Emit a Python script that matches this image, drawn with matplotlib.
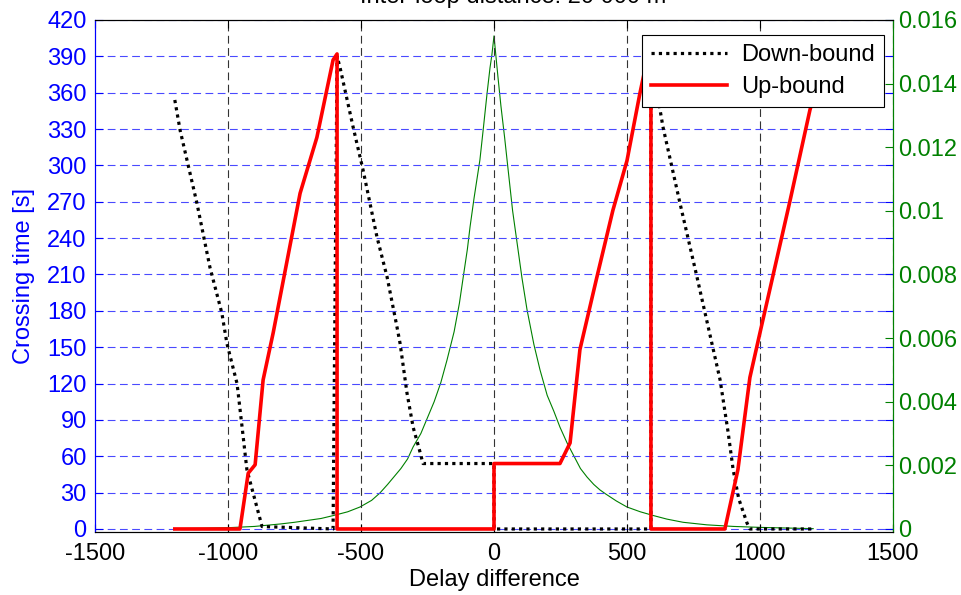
import matplotlib
matplotlib.use('Agg')
import matplotlib.pyplot as plt

plt.rcParams['font.family'] = ['Liberation Sans', 'DejaVu Sans']
plt.rcParams['font.size'] = 17
plt.rcParams['axes.unicode_minus'] = False

title = 'Inter-loop distance: 20 000 m'

# Down-bound (black dotted), crossing time [s]
down_x = [-1200, -1180, -1117, -1068, -1023, -1004, -966, -947, -929, -906, -872,
          -605, -590, -579, -530, -492, -440, -402, -365, -353, -327, -304, -280, -267,
          0, 0, 590, 590, 635, 699, 763, 850, 880, 899, 920, 951, 962, 1200]
down_y = [354, 329, 269, 216, 178, 153, 120, 84, 49, 30, 2,
          0, 390, 381, 332, 296, 241, 208, 167, 153, 112, 84, 65, 54,
          54, 0, 0, 390, 332, 269, 208, 123, 80, 49, 25, 5, 0, 0]

# Up-bound (red solid)
up_x = [-1200, -955, -924, -898, -868, -830, -729, -666, -605, -590, -590,
        0, 0, 248, 286, 323, 387, 447, 500, 549, 575, 590, 590,
        868, 917, 962, 1000, 1113, 1188, 1200]
up_y = [0, 0, 46, 53, 123, 162, 277, 323, 387, 392, 0,
        0, 54, 54, 71, 148, 208, 263, 304, 360, 387, 392, 0,
        0, 49, 125, 162, 271, 346, 355]

# green curve on the right axis
dens_x = [-1200, -1100, -1000, -950, -900, -850, -800, -750, -700, -650, -605, -550,
          -504, -460, -429, -400, -375, -350, -325, -304, -275, -250, -225, -200, -177,
          -150, -130, -116, -100, -90, -75, -53, -40, -26, -15, -8, 0,
          8, 15, 26, 40, 53, 70, 90, 105, 124, 150, 173, 200, 225, 248, 275, 300, 325,
          350, 375, 398, 420, 460, 500, 550, 600, 650, 711, 800, 900, 1000, 1100, 1200]
dens_y = [0.00001, 0.00002, 0.00004, 0.00006, 0.00008, 0.00012, 0.00016, 0.00021,
          0.00027, 0.00033, 0.00042, 0.00054, 0.00069, 0.0009, 0.00113, 0.0014, 0.00165,
          0.0019, 0.0022, 0.00258, 0.0030, 0.0035, 0.0040, 0.0046, 0.0053,
          0.0062, 0.0071, 0.0079, 0.0088, 0.0095, 0.0104, 0.0116, 0.0126, 0.0137, 0.0145,
          0.0149, 0.0155,
          0.0148, 0.0142, 0.0133, 0.0123, 0.0113, 0.0100, 0.0088, 0.0079, 0.0069, 0.0058,
          0.0050, 0.0042, 0.0037, 0.0032, 0.0027, 0.0023, 0.0019, 0.00163, 0.0014,
          0.00123, 0.0011, 0.00088, 0.00069, 0.00054, 0.00042, 0.00031, 0.00021, 0.00013,
          0.00008, 0.00005, 0.00003, 0.00001]

blue = '#0000ff'
green = '#008000'

fig = plt.figure(figsize=(9.62, 5.95), dpi=100)
ax1 = fig.add_axes([95 / 962, 63 / 595, 798 / 962, 512 / 595])
ax2 = ax1.twinx()
ax1.set_zorder(ax2.get_zorder() + 1)
ax1.patch.set_visible(False)

ax2.plot(dens_x, dens_y, color=green, lw=0.8)
ax1.plot(down_x, down_y, color='black', lw=2.3, linestyle=(0, (1, 1.3)), label='Down-bound')
ax1.plot(up_x, up_y, color='red', lw=2.6, label='Up-bound')

ax1.set_xlim(-1500, 1500)
ax1.set_ylim(-2.5, 420)
ax2.set_ylim(-2.5 / 420 * 0.016, 0.016)
ax1.set_xticks(range(-1500, 1501, 500))
ax1.set_yticks(range(0, 421, 30))
ax2.set_yticks([0, 0.002, 0.004, 0.006, 0.008, 0.01, 0.012, 0.014, 0.016])
ax2.set_yticklabels(['0', '0.002', '0.004', '0.006', '0.008', '0.01', '0.012', '0.014', '0.016'])

for xv in range(-1000, 1501, 500):
    ax1.axvline(xv, color='#333333', lw=0.8, linestyle=(0, (7, 4)), zorder=0)
for yv in range(0, 421, 30):
    ax1.axhline(yv, color='#4a4aff', lw=0.8, linestyle=(0, (7, 4)), zorder=0)

ax1.tick_params(axis='x', direction='in', length=6, top=True, colors='black', pad=8)
ax1.tick_params(axis='y', direction='in', length=6, right=True, colors=blue, labelcolor=blue, pad=6)
ax2.tick_params(axis='y', direction='in', length=6, colors=green, labelcolor=green, pad=4)
ax1.spines['left'].set_color(blue)
ax2.spines['left'].set_color(blue)
ax2.spines['right'].set_color(green)
ax1.spines['right'].set_color(green)

ax1.set_xlabel('Delay difference', labelpad=3)
ax1.set_ylabel('Crossing time [s]', color=blue)
ax1.yaxis.set_label_coords(-60 / 798, 0.5)

leg = ax1.legend(loc='upper right', bbox_to_anchor=(0.9887, 0.9707), borderaxespad=0,
                 fancybox=False, edgecolor='black', framealpha=1, handlelength=3.2,
                 labelspacing=0.4, borderpad=0.4, handletextpad=0.6)
leg.get_frame().set_linewidth(0.8)

fig.text(513 / 962, 1 - 3 / 595, title, ha='center', va='baseline')

fig.savefig('out.png', dpi=100)
